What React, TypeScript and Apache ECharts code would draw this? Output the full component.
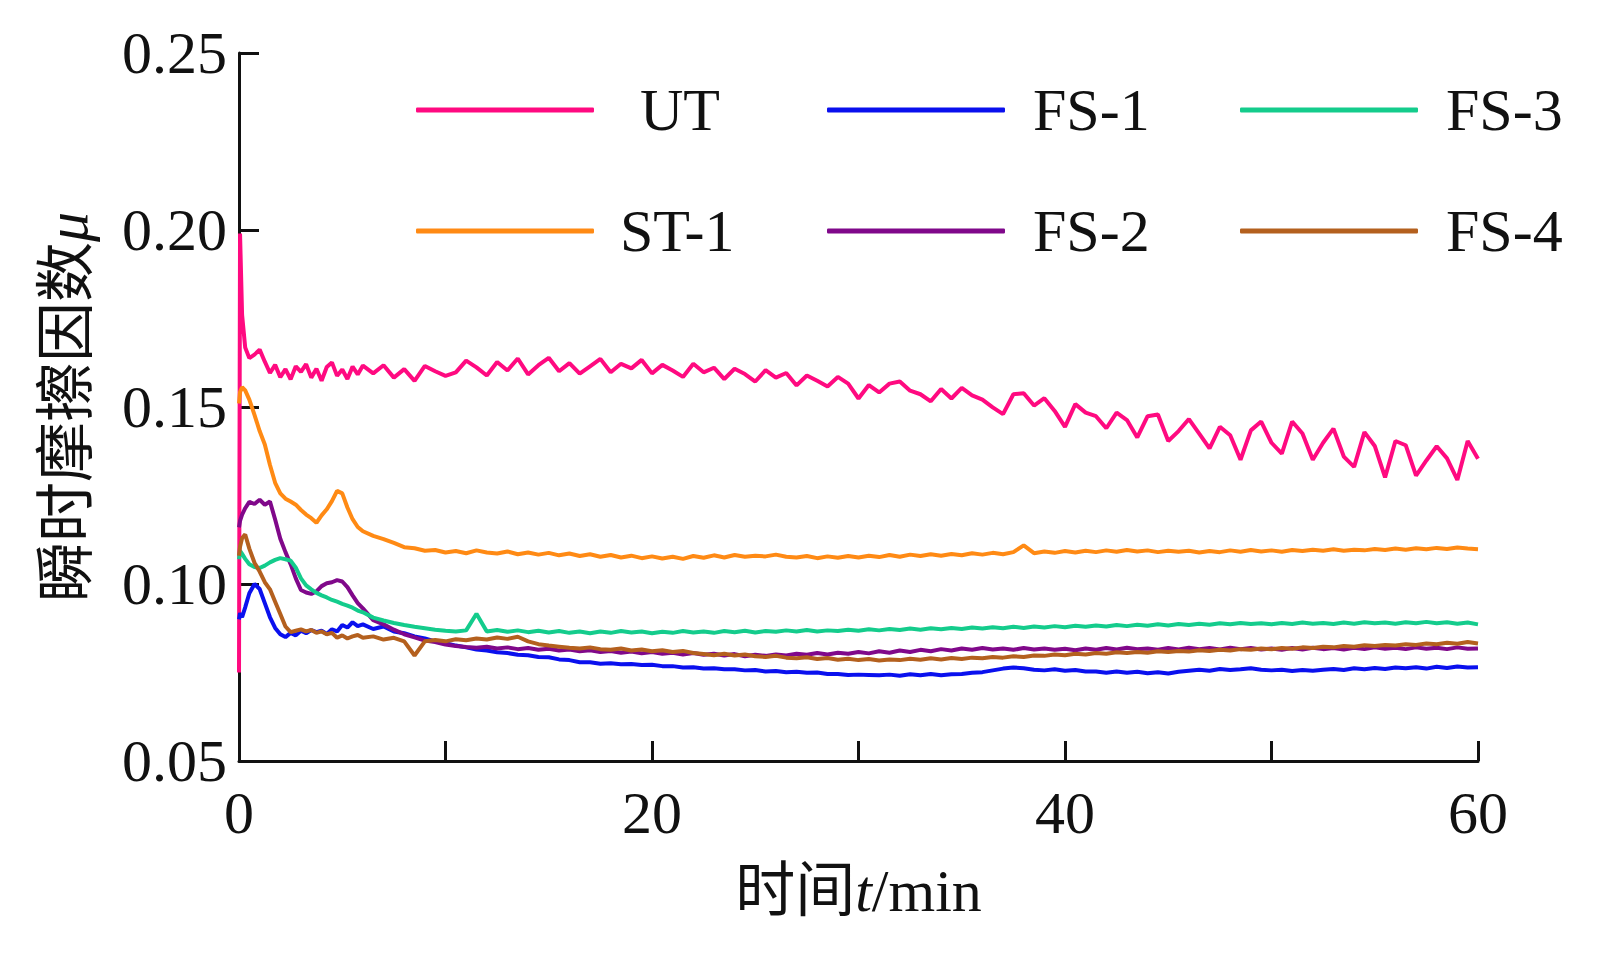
import React, { useEffect, useRef } from 'react';
import * as echarts from 'echarts';

// sampling times (min)
const times = [
  0, 0.05, 0.15, 0.3, 0.5, 0.75, 1, 1.25, 1.5, 1.75, 2, 2.25, 2.5, 2.75, 3, 3.25, 3.5, 3.75, 4, 4.25, 4.5, 4.75, 5, 5.25, 5.5, 5.75, 6,
  6.5, 7, 7.5, 8, 8.5, 9, 9.5, 10,
  10.5, 11, 11.5, 12, 12.5, 13, 13.5, 14, 14.5, 15, 15.5, 16, 16.5, 17, 17.5, 18, 18.5, 19, 19.5, 20,
  20.5, 21, 21.5, 22, 22.5, 23, 23.5, 24, 24.5, 25, 25.5, 26, 26.5, 27, 27.5, 28, 28.5, 29, 29.5, 30,
  30.5, 31, 31.5, 32, 32.5, 33, 33.5, 34, 34.5, 35, 35.5, 36, 36.5, 37, 37.5, 38, 38.5, 39, 39.5, 40,
  40.5, 41, 41.5, 42, 42.5, 43, 43.5, 44, 44.5, 45, 45.5, 46, 46.5, 47, 47.5, 48, 48.5, 49, 49.5, 50,
  50.5, 51, 51.5, 52, 52.5, 53, 53.5, 54, 54.5, 55, 55.5, 56, 56.5, 57, 57.5, 58, 58.5, 59, 59.5, 60,
];

const utValues = [
  0.075, 0.199, 0.176, 0.1668, 0.1638, 0.1648, 0.1662, 0.1628, 0.1596, 0.1619, 0.1584, 0.1607, 0.1578, 0.1615, 0.1599, 0.1621, 0.1583, 0.1608, 0.1574, 0.1613, 0.1626, 0.1588, 0.1606, 0.1579, 0.1614, 0.1592, 0.1617,
  0.1595, 0.1618, 0.1583, 0.1607, 0.1574, 0.1616, 0.1601, 0.1588,
  0.1598, 0.1631, 0.1612, 0.1589, 0.1627, 0.1603, 0.1637, 0.1592, 0.1618, 0.1639, 0.1601, 0.1624, 0.1594, 0.1615, 0.1636, 0.1598, 0.1622, 0.1609, 0.1633, 0.1595,
  0.1619, 0.1603, 0.1585, 0.1622, 0.1598, 0.1611, 0.1579, 0.1608, 0.1593, 0.1572, 0.1604, 0.1583, 0.1596, 0.1561, 0.1589, 0.1574, 0.1558, 0.1585, 0.1566, 0.1524,
  0.1562, 0.1541, 0.1566, 0.1572, 0.1546, 0.1536, 0.1516, 0.1551, 0.1524, 0.1554, 0.1533, 0.1521, 0.1499, 0.148, 0.1536, 0.1539, 0.1504, 0.1525, 0.1489, 0.1444,
  0.1508, 0.1484, 0.1474, 0.144, 0.1484, 0.1463, 0.1414, 0.1474, 0.1479, 0.1404, 0.1432, 0.1466, 0.1425, 0.1383, 0.1444, 0.142, 0.1351, 0.1434, 0.1459, 0.1399,
  0.1368, 0.1459, 0.1425, 0.1351, 0.1399, 0.1439, 0.136, 0.1331, 0.1429, 0.139, 0.1301, 0.1404, 0.1392, 0.1306, 0.1349, 0.1389, 0.1355, 0.1294, 0.1404, 0.1354,
];

const st1Values = [
  0.151, 0.1542, 0.1556, 0.1547, 0.1521, 0.1478, 0.1432, 0.1394, 0.1336, 0.1286, 0.1256, 0.1241, 0.1233, 0.1224, 0.1209, 0.1196, 0.1186, 0.1173, 0.1194, 0.1211, 0.1234, 0.1263, 0.1256, 0.1216, 0.1183, 0.1161, 0.1149,
  0.1136, 0.1127, 0.1116, 0.1104, 0.1101, 0.1094, 0.1096, 0.1089,
  0.1093, 0.1087, 0.1095, 0.1089, 0.1086, 0.1092, 0.1084, 0.1089, 0.1083, 0.1088, 0.1081, 0.1086, 0.1079, 0.1084, 0.1077, 0.1082, 0.1075, 0.108, 0.1073, 0.1078,
  0.1072, 0.1077, 0.1071, 0.1079, 0.1074, 0.1081, 0.1075, 0.1082, 0.1077, 0.108, 0.1078, 0.1083, 0.1077, 0.1075, 0.1079, 0.1073, 0.1078, 0.1074, 0.1079, 0.1075,
  0.108, 0.1076, 0.1082, 0.1077, 0.1083, 0.1079, 0.1084, 0.108, 0.1085, 0.1081, 0.1087, 0.1083, 0.1088, 0.1084, 0.109, 0.1109, 0.1087, 0.1092, 0.1088, 0.1093,
  0.1089, 0.1094, 0.109, 0.1095, 0.1091, 0.1096, 0.1092, 0.1095, 0.109, 0.1094, 0.1091, 0.1094, 0.1089, 0.1093, 0.109, 0.1095, 0.1091, 0.1096, 0.1092, 0.1095,
  0.1091, 0.1096, 0.1093, 0.1097, 0.1094, 0.1098, 0.1094, 0.1097, 0.1095, 0.1099, 0.1096, 0.11, 0.1097, 0.1101, 0.1098, 0.1102, 0.1099, 0.1103, 0.11, 0.1098,
];

const fs1Values = [
  0.09, 0.0918, 0.0906, 0.0934, 0.0974, 0.1, 0.0986, 0.0946, 0.0906, 0.0876, 0.0858, 0.085, 0.0862, 0.0855, 0.0868, 0.0861, 0.087, 0.0864, 0.0868, 0.0859, 0.0872, 0.0866, 0.0884, 0.0877, 0.0892, 0.0881, 0.0886,
  0.0873, 0.088, 0.0866, 0.0861, 0.0852, 0.0846, 0.0838, 0.0833,
  0.0826, 0.0821, 0.0815, 0.0812, 0.0807, 0.0805, 0.08, 0.0799, 0.0794, 0.0793, 0.0787, 0.0785, 0.0779, 0.0779, 0.0775, 0.0776, 0.0773, 0.0774, 0.0771, 0.0772,
  0.0768, 0.0768, 0.0764, 0.0765, 0.0761, 0.0762, 0.0759, 0.0759, 0.0756, 0.0757, 0.0753, 0.0754, 0.0751, 0.0752, 0.0749, 0.075, 0.0746, 0.0746, 0.0743, 0.0744,
  0.0743, 0.0742, 0.0744, 0.0741, 0.0745, 0.0742, 0.0746, 0.0742, 0.0745, 0.0746, 0.0749, 0.0751, 0.0756, 0.0761, 0.0764, 0.0762, 0.0758, 0.0756, 0.0759, 0.0755,
  0.0757, 0.0753, 0.0753, 0.0749, 0.0753, 0.0749, 0.0752, 0.0748, 0.0751, 0.0747, 0.0752, 0.0755, 0.0758, 0.0755, 0.076, 0.0757, 0.0759, 0.0762, 0.0758, 0.0756,
  0.0758, 0.0754, 0.0757, 0.0755, 0.0758, 0.076, 0.0757, 0.0762, 0.0759, 0.0763, 0.076, 0.0764, 0.0762, 0.0765, 0.0761, 0.0766, 0.0763, 0.0767, 0.0764, 0.0765,
];

const fs2Values = [
  0.116, 0.1178, 0.1196, 0.1214, 0.1232, 0.1226, 0.1238, 0.1224, 0.1233, 0.1182, 0.1128, 0.109, 0.1056, 0.1016, 0.0983, 0.0976, 0.0972, 0.0979, 0.0994, 0.1002, 0.1005, 0.1011, 0.1007, 0.0991, 0.0968, 0.0946, 0.0931,
  0.0898, 0.0886, 0.0871, 0.0858, 0.0849, 0.084, 0.0836, 0.0829,
  0.0825, 0.0822, 0.082, 0.0823, 0.0818, 0.0821, 0.0816, 0.0819, 0.0814, 0.0817, 0.0812, 0.0815, 0.081, 0.0813, 0.0808, 0.0811, 0.0806, 0.0809, 0.0804, 0.0808,
  0.0803, 0.0806, 0.0801, 0.0805, 0.08, 0.0803, 0.0798, 0.0802, 0.0796, 0.08, 0.0797, 0.0801, 0.0798, 0.0803, 0.08, 0.0805, 0.0801, 0.0806, 0.0803, 0.0808,
  0.0804, 0.081, 0.0806, 0.0812, 0.0808, 0.0814, 0.081, 0.0816, 0.0812, 0.0818, 0.0814, 0.0819, 0.0815, 0.0818, 0.0814, 0.0819, 0.0815, 0.0818, 0.0814, 0.0817,
  0.0813, 0.0818, 0.0814, 0.0819, 0.0815, 0.082, 0.0816, 0.0818, 0.0814, 0.0819, 0.0815, 0.082, 0.0816, 0.0819, 0.0815, 0.082, 0.0816, 0.0819, 0.0815, 0.0818,
  0.0814, 0.0819, 0.0815, 0.082, 0.0816, 0.0819, 0.0815, 0.082, 0.0816, 0.0821, 0.0817, 0.082, 0.0816, 0.0821, 0.0817, 0.082, 0.0816, 0.0821, 0.0817, 0.0818,
];

const fs3Values = [
  0.107, 0.1094, 0.1085, 0.1071, 0.1056, 0.1048, 0.1045, 0.1052, 0.1061, 0.1068, 0.1073, 0.107, 0.1066, 0.1046, 0.1016, 0.0996, 0.0985, 0.0975, 0.0968, 0.0962, 0.0955, 0.095, 0.0944, 0.0939, 0.0933, 0.0925, 0.092,
  0.0905, 0.0897, 0.089, 0.0884, 0.0879, 0.0875, 0.0871, 0.0868,
  0.0866, 0.0869, 0.0916, 0.0866, 0.087, 0.0865, 0.0869, 0.0864, 0.0868, 0.0863, 0.0867, 0.0862, 0.0866, 0.0861, 0.0866, 0.0862, 0.0867, 0.0863, 0.0866, 0.0861,
  0.0865, 0.0862, 0.0867, 0.0863, 0.0866, 0.0862, 0.0867, 0.0864, 0.0868, 0.0863, 0.0867, 0.0865, 0.0869, 0.0866, 0.087, 0.0866, 0.0869, 0.0867, 0.0871, 0.0868,
  0.0872, 0.0869, 0.0873, 0.087, 0.0874, 0.0871, 0.0875, 0.0872, 0.0876, 0.0873, 0.0877, 0.0874, 0.0878, 0.0875, 0.0879, 0.0876, 0.088, 0.0877, 0.0881, 0.0878,
  0.0882, 0.0879, 0.0883, 0.088, 0.0884, 0.0881, 0.0885, 0.0882, 0.0886, 0.0883, 0.0887, 0.0884, 0.0888, 0.0885, 0.0889, 0.0886, 0.089, 0.0887, 0.0889, 0.0886,
  0.089, 0.0887, 0.0891, 0.0888, 0.089, 0.0887, 0.0891, 0.0888, 0.0892, 0.0889, 0.0891, 0.0888, 0.0892, 0.0889, 0.0893, 0.0889, 0.0892, 0.0888, 0.0891, 0.0886,
];

const fs4Values = [
  0.108, 0.1105, 0.113, 0.114, 0.11, 0.106, 0.1035, 0.1005, 0.0985, 0.095, 0.0915, 0.088, 0.0864, 0.0868, 0.0872, 0.0866, 0.087, 0.0862, 0.0866, 0.0858, 0.0862, 0.0848, 0.0855, 0.0846, 0.0852, 0.0856, 0.0848,
  0.0852, 0.0843, 0.0848, 0.0838, 0.0798, 0.0838, 0.0842, 0.0838,
  0.0844, 0.0841, 0.0846, 0.0843, 0.0849, 0.0845, 0.0851, 0.0838, 0.083, 0.0826, 0.0823, 0.082, 0.0818, 0.0821, 0.0816, 0.0814, 0.0818, 0.0812, 0.0815, 0.081,
  0.0813, 0.0808, 0.0811, 0.0805, 0.0802, 0.0799, 0.0803, 0.0798, 0.0801, 0.0796, 0.0794, 0.0797, 0.0792, 0.079, 0.0793, 0.0788, 0.0791, 0.0786, 0.0789, 0.0785,
  0.0788, 0.0784, 0.0787, 0.0785, 0.0789, 0.0786, 0.079, 0.0787, 0.0791, 0.0788, 0.0792, 0.079, 0.0794, 0.0792, 0.0796, 0.0794, 0.0798, 0.0797, 0.0801, 0.0799,
  0.0803, 0.0801, 0.0805, 0.0803, 0.0807, 0.0805, 0.0808, 0.0806, 0.081, 0.0808, 0.0811, 0.0809, 0.0813, 0.0811, 0.0814, 0.0812, 0.0816, 0.0814, 0.0818, 0.0816,
  0.0819, 0.0817, 0.0821, 0.0819, 0.0823, 0.0821, 0.0825, 0.0823, 0.0827, 0.0825, 0.0828, 0.0826, 0.083, 0.0828, 0.0832, 0.083, 0.0834, 0.0831, 0.0836, 0.0832,
];

const seriesNames = ['UT', 'ST-1', 'FS-1', 'FS-2', 'FS-3', 'FS-4'];
const seriesValues = [utValues, st1Values, fs1Values, fs2Values, fs3Values, fs4Values];
const seriesColors = ['#FF0A80', '#FF8A14', '#0A10EE', '#80088A', '#14CC8C', '#B4601E'];

// legend layout: [name, left, top, extra text offset]
const legendSlots: [string, number, number, number][] = [
  ['UT', 416, 80, 41],
  ['FS-1', 827, 80, 23],
  ['FS-3', 1240, 80, 23],
  ['ST-1', 416, 201, 21],
  ['FS-2', 827, 201, 23],
  ['FS-4', 1240, 201, 23],
];

const FONT = "'Liberation Serif', 'Times New Roman', 'Noto Sans CJK SC', serif";

export default function App() {
  const ref = useRef<HTMLDivElement>(null);

  useEffect(() => {
    document.body.style.margin = '0';
    if (!ref.current) return;
    const chart = echarts.init(ref.current, undefined, { renderer: 'svg' });

    const series = seriesNames.map((name, k) => ({
      name,
      type: 'line',
      data: times.map((t, i) => [t, seriesValues[k][i]]),
      symbol: 'none',
      showSymbol: false,
      lineStyle: { color: seriesColors[k], width: 4 },
      itemStyle: { color: seriesColors[k] },
      z: 2,
    }));

    const legends = legendSlots.map(([name, left, top, pad]) => ({
      data: [{ name, icon: 'roundRect' }],
      left,
      top,
      padding: 0,
      itemWidth: 178,
      itemHeight: 5,
      selectedMode: false,
      textStyle: {
        fontFamily: FONT,
        fontSize: 60,
        lineHeight: 60,
        color: '#111',
        padding: [0, 0, 0, pad],
      },
    }));

    chart.setOption({
      animation: false,
      backgroundColor: '#fff',
      legend: legends,
      grid: { left: 239, right: 122, top: 53, bottom: 195, containLabel: false },
      xAxis: {
        type: 'value',
        min: 0,
        max: 60,
        interval: 10,
        name: '时间{i|t}/min',
        nameLocation: 'middle',
        nameGap: 100,
        nameTextStyle: {
          fontFamily: FONT,
          fontSize: 60,
          color: '#111',
          rich: { i: { fontFamily: FONT, fontStyle: 'italic', fontSize: 60, color: '#111' } },
        },
        axisLine: { show: true, lineStyle: { color: '#111', width: 3 } },
        axisTick: { show: true, inside: true, length: 20, lineStyle: { color: '#111', width: 3 } },
        axisLabel: {
          fontFamily: FONT,
          fontSize: 60,
          color: '#111',
          margin: 22,
          formatter: (v: number) => (v % 20 === 0 ? String(v) : ''),
        },
        splitLine: { show: false },
      },
      yAxis: {
        type: 'value',
        min: 0.05,
        max: 0.25,
        interval: 0.05,
        name: '瞬时摩擦因数{i|μ}',
        nameLocation: 'middle',
        nameRotate: 90,
        nameGap: 142,
        nameTextStyle: {
          fontFamily: FONT,
          fontSize: 60,
          color: '#111',
          rich: { i: { fontFamily: FONT, fontStyle: 'italic', fontSize: 60, color: '#111' } },
        },
        axisLine: { show: true, lineStyle: { color: '#111', width: 3 } },
        axisTick: { show: true, inside: true, length: 20, lineStyle: { color: '#111', width: 3 } },
        axisLabel: {
          fontFamily: FONT,
          fontSize: 60,
          color: '#111',
          margin: 12,
          formatter: (v: number) => v.toFixed(2),
        },
        splitLine: { show: false },
      },
      series,
    });

    return () => chart.dispose();
  }, []);

  return <div ref={ref} style={{ width: 1600, height: 956 }} />;
}
